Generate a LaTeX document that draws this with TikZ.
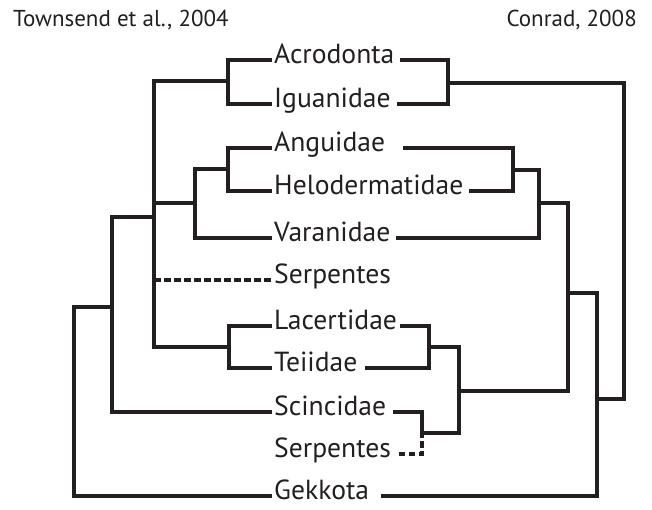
\documentclass[tikz,border=0pt]{standalone}
\usepackage{fontspec}
\setmainfont{PT Sans}
\definecolor{ink}{RGB}{35,31,32}
\begin{document}
\begin{tikzpicture}[x=1pt,y=-1pt,
  br/.style={line width=3.3pt, line join=miter, draw=ink},
  dsh/.style={line width=3.3pt, draw=ink, dash pattern=on 6.5pt off 3.5pt},
  leaf/.style={anchor=west, inner sep=0pt, text height=0.7em, text depth=0pt, text=ink, font=\fontsize{27.6}{30}\selectfont},
  hdr/.style={inner sep=0pt, text=ink, font=\fontsize{23}{26}\selectfont}]
\useasboundingbox (0,0) rectangle (652,509);
% headers
\node[hdr, anchor=base west] (h1) at (13,26.5) {Townsend et al., 2004};
\node[hdr, anchor=base east] (h2) at (637,26.5) {Conrad, 2008};
% leaves
\node[leaf] (acro) at (274,60) {Acrodonta};
\node[leaf] (igu) at (274,104) {Iguanidae};
\node[leaf] (ang) at (274,148) {Anguidae};
\node[leaf] (helo) at (274,191) {Helodermatidae};
\node[leaf] (var) at (274,238) {Varanidae};
\node[leaf] (serpa) at (274,280) {Serpentes};
\node[leaf] (lac) at (274,326) {Lacertidae};
\node[leaf] (tei) at (274,368) {Teiidae};
\node[leaf] (sci) at (274,412) {Scincidae};
\node[leaf] (serpb) at (274,454) {Serpentes};
\node[leaf] (gek) at (274,496) {Gekkota};
% left leaf ends
\foreach \n in {acro,igu,ang,helo,var,serpa,lac,tei,sci,gek}
  \coordinate (\n L) at ([xshift=-2pt]\n.west);
% right leaf starts
\coordinate (acroR) at ([xshift=5pt]acro.east);
\coordinate (iguR) at ([xshift=6pt]igu.east);
\coordinate (angR) at ([xshift=18pt]ang.east);
\coordinate (heloR) at ([xshift=6pt]helo.east);
\coordinate (varR) at ([xshift=5pt]var.east);
\coordinate (lacR) at ([xshift=3pt]lac.east);
\coordinate (teiR) at ([xshift=7pt]tei.east);
\coordinate (sciR) at ([xshift=7pt]sci.east);
\coordinate (serpbR) at ([xshift=5pt]serpb.east);
\coordinate (gekR) at ([xshift=12pt]gek.east);
% left tree internal nodes
\coordinate (a1) at (228,81);
\coordinate (a2) at (228,169);
\coordinate (a3) at (195,203);
\coordinate (a4) at (229,347);
\coordinate (a5) at (154,217);
\coordinate (a6) at (112,307);
\coordinate (a7) at (74,400);
% right tree internal nodes
\coordinate (b1) at (448,83);
\coordinate (b2) at (513,170);
\coordinate (b3) at (539,203);
\coordinate (b4) at (429,347);
\coordinate (b5) at (422,433);
\coordinate (b6) at (459,391);
\coordinate (b7) at (568,293);
\coordinate (b8) at (597,399);
\coordinate (b9) at (624,300);
% left tree
\draw[br] (acroL) -| (a1) |- (iguL);
\draw[br] (angL) -| (a2) |- (heloL);
\draw[br] (a2) -| (a3) |- (varL);
\draw[br] (lacL) -| (a4) |- (teiL);
\draw[br] (a1) -| (a5) |- (a4);
\draw[br] (a3) -- (a3 -| a5);
\draw[dsh] (a5 |- serpaL) -- (serpaL);
\draw[br] (a5) -| (a6) |- (sciL);
\draw[br] (a6) -| (a7) |- (gekL);
% right tree
\draw[br] (acroR) -| (b1) |- (iguR);
\draw[br] (angR) -| (b2) |- (heloR);
\draw[br] (b2) -| (b3) |- (varR);
\draw[br] (sciR) -| (b5) -| (b6) |- (b4);
\draw[br] (lacR) -| (b4) |- (teiR);
\draw[dsh] ([yshift=2pt]b5) |- (serpbR);
\draw[br] (b6) -| (b7) |- (b3);
\draw[br] (b7) -| (b8) |- (gekR);
\draw[br] (b8) -| (b9) |- (b1);
\end{tikzpicture}
\end{document}
